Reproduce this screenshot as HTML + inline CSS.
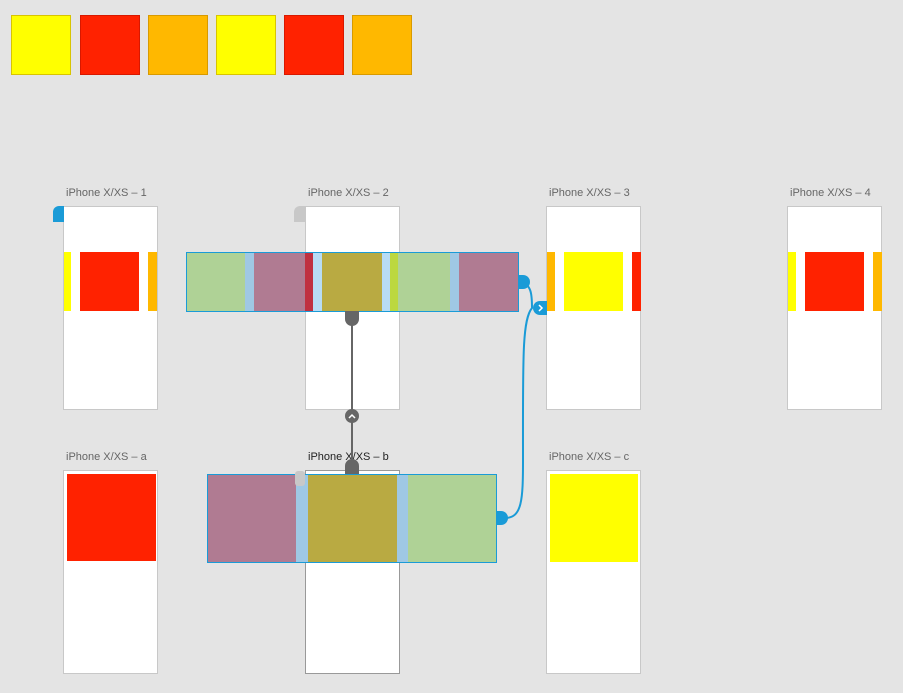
<html><head><style>
body{margin:0;width:903px;height:693px;background:#e4e4e4;position:relative;overflow:hidden;font-family:"Liberation Sans",sans-serif}
div{position:absolute;box-sizing:border-box}
.ab{background:#fff;border:1px solid #c8c8c8;width:95px;height:204px}
.lb{font-size:11px;color:#666;white-space:nowrap}
</style></head><body>
<div style="left:11px;top:15px;width:60px;height:60px;background:#ffff00;border:1px solid #d8c400"></div>
<div style="left:80px;top:15px;width:60px;height:60px;background:#ff2200;border:1px solid #d81800"></div>
<div style="left:148px;top:15px;width:60px;height:60px;background:#ffb800;border:1px solid #d89a00"></div>
<div style="left:216px;top:15px;width:60px;height:60px;background:#ffff00;border:1px solid #d8c400"></div>
<div style="left:284px;top:15px;width:60px;height:60px;background:#ff2200;border:1px solid #d81800"></div>
<div style="left:352px;top:15px;width:60px;height:60px;background:#ffb800;border:1px solid #d89a00"></div>

<div class="lb" style="left:66px;top:187px">iPhone X/XS – 1</div>
<div class="lb" style="left:308px;top:187px">iPhone X/XS – 2</div>
<div class="lb" style="left:549px;top:187px">iPhone X/XS – 3</div>
<div class="lb" style="left:790px;top:187px">iPhone X/XS – 4</div>
<div class="lb" style="left:66px;top:451px">iPhone X/XS – a</div>
<div class="lb" style="left:308px;top:451px;color:#222">iPhone X/XS – b</div>
<div class="lb" style="left:549px;top:451px">iPhone X/XS – c</div>

<div class="ab" style="left:63px;top:206px"></div>
<div class="ab" style="left:305px;top:206px"></div>
<div class="ab" style="left:546px;top:206px"></div>
<div class="ab" style="left:787px;top:206px"></div>
<div class="ab" style="left:63px;top:470px"></div>
<div class="ab" style="left:305px;top:470px;border-color:#999"></div>
<div class="ab" style="left:546px;top:470px"></div>

<div style="left:53px;top:206px;width:11px;height:16px;background:#1a9bd7;border-radius:6px 0 0 0"></div>
<div style="left:294px;top:206px;width:11px;height:16px;background:#c8c8c8;border-radius:6px 0 0 0"></div>

<div style="left:64px;top:252px;width:7px;height:59px;background:#ffff00"></div>
<div style="left:80px;top:252px;width:59px;height:59px;background:#ff2200"></div>
<div style="left:148px;top:252px;width:9px;height:59px;background:#ffb800"></div>
<div style="left:547px;top:252px;width:8px;height:59px;background:#ffb800"></div>
<div style="left:564px;top:252px;width:59px;height:59px;background:#ffff00"></div>
<div style="left:632px;top:252px;width:9px;height:59px;background:#ff2200"></div>
<div style="left:788px;top:252px;width:8px;height:59px;background:#ffff00"></div>
<div style="left:805px;top:252px;width:59px;height:59px;background:#ff2200"></div>
<div style="left:873px;top:252px;width:9px;height:59px;background:#ffb800"></div>
<div style="left:67px;top:474px;width:89px;height:87px;background:#ff2200"></div>
<div style="left:550px;top:474px;width:88px;height:88px;background:#ffff00"></div>

<svg width="903" height="693" style="position:absolute;left:0;top:0">
<g>
<rect x="187" y="252" width="58" height="59" fill="#afd296"/>
<rect x="245" y="252" width="9" height="59" fill="#9fc8e4"/>
<rect x="254" y="252" width="51" height="59" fill="#b07b92"/>
<rect x="305" y="252" width="8" height="59" fill="#c03040"/>
<rect x="313" y="252" width="9" height="59" fill="#b8dcf4"/>
<rect x="322" y="252" width="60" height="59" fill="#b9aa42"/>
<rect x="382" y="252" width="8" height="59" fill="#b8dcf4"/>
<rect x="390" y="252" width="8" height="59" fill="#bcd840"/>
<rect x="398" y="252" width="52" height="59" fill="#afd296"/>
<rect x="450" y="252" width="9" height="59" fill="#9fc8e4"/>
<rect x="459" y="252" width="59" height="59" fill="#b07b92"/>
<rect x="186.5" y="252.5" width="332" height="59" fill="none" stroke="#1a9bd7"/>

<rect x="207" y="474" width="89" height="88" fill="#b07b92"/>
<rect x="296" y="474" width="12" height="88" fill="#9fc8e4"/>
<rect x="308" y="474" width="89" height="88" fill="#b9aa42"/>
<rect x="397" y="474" width="11" height="88" fill="#9fc8e4"/>
<rect x="408" y="474" width="88" height="88" fill="#afd296"/>
<rect x="207.5" y="474.5" width="289" height="88" fill="none" stroke="#1a9bd7"/>
<rect x="295" y="471" width="10" height="15" fill="#c8c8c8" rx="3"/>
</g>
<line x1="352" y1="312" x2="352" y2="470" stroke="#666" stroke-width="2"/>
<path d="M345 311 h14 v8 a7 7 0 0 1 -14 0z" fill="#666"/>
<circle cx="352" cy="416" r="7" fill="#666"/>
<path d="M349 418 l3 -3 l3 3" stroke="#fff" stroke-width="1.5" fill="none"/>
<path d="M345 474 v-8 a7 7 0 0 1 14 0 v8z" fill="#666"/>
<path d="M518 282 C532 282 532 296 532 308 C522 320 523 360 523 460 C523 500 522 518 505 518" stroke="#1a9bd7" stroke-width="2" fill="none"/>
<path d="M518 275 h5 a7 7 0 0 1 0 14 h-5z" fill="#1a9bd7"/>
<path d="M496 511 h5 a7 7 0 0 1 0 14 h-5z" fill="#1a9bd7"/>
<path d="M547 301 h-7 a7 7 0 0 0 0 14 h7z" fill="#1a9bd7"/>
<path d="M539 305 l3 3 l-3 3" stroke="#fff" stroke-width="1.5" fill="none"/>
</svg>
</body></html>
